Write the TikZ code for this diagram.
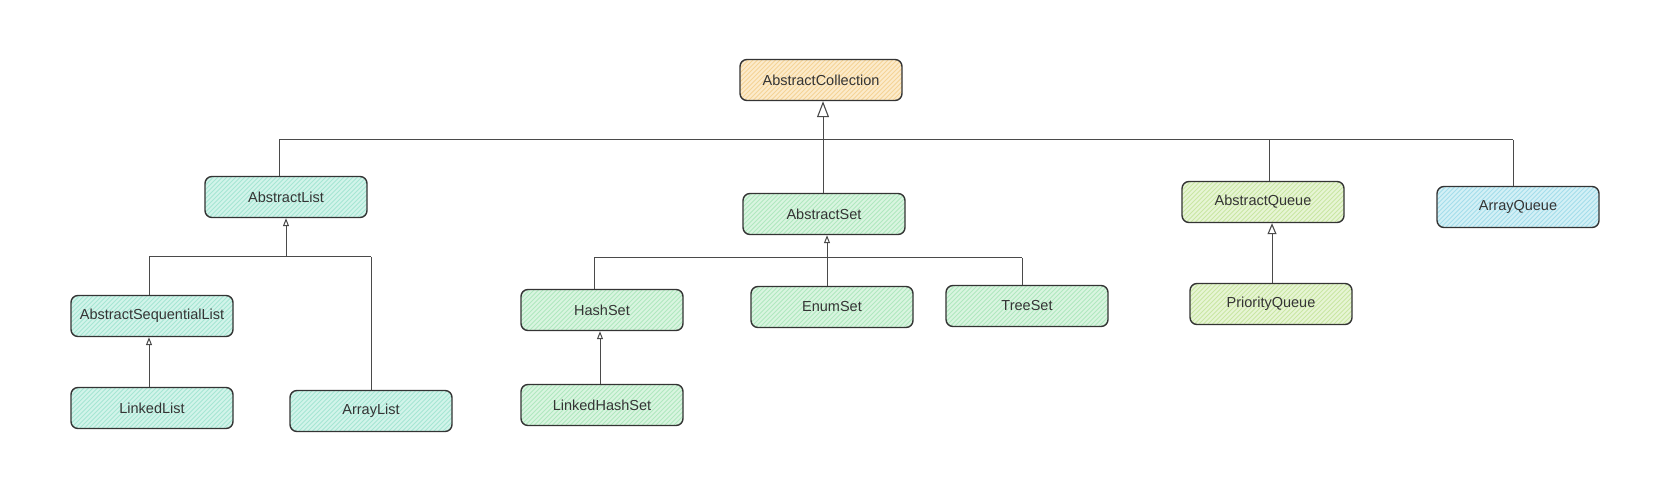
\documentclass[tikz,border=0pt]{standalone}
\usepackage{fontspec}
\setmainfont{Liberation Sans}
\usetikzlibrary{arrows.meta,calc}
\definecolor{ink}{HTML}{343434}
\definecolor{wire}{HTML}{4A4A4A}
\definecolor{orfill}{HTML}{FCEBCB}\definecolor{orhatch}{HTML}{F4D396}
\definecolor{tlfill}{HTML}{D2F4EA}\definecolor{tlhatch}{HTML}{A6E6D3}
\definecolor{grfill}{HTML}{D9F5E0}\definecolor{grhatch}{HTML}{B0E8BF}
\definecolor{ylfill}{HTML}{E7F5D5}\definecolor{ylhatch}{HTML}{C9E6A3}
\definecolor{blfill}{HTML}{D3F0F6}\definecolor{blhatch}{HTML}{A4DDEB}
\tikzset{
  cls/.style={draw=ink, line width=1.4pt, rounded corners=7pt, minimum width=162pt,
    minimum height=41pt, inner sep=0pt, text=ink, font=\fontsize{14.5}{16}\selectfont,
    fill=#1fill,
    path picture={
      \foreach \i in {-50,-45.5,...,175}{
        \draw[#1hatch, line width=0.9pt]
          ($(path picture bounding box.south west)+(\i,0)$) -- ++(52,-52);
      }
    }},
  link/.style={draw=wire, line width=1pt},
  bigtri/.style={link, -{Triangle[open, length=16pt, width=12pt, line width=1.1pt]}},
  midtri/.style={link, -{Triangle[open, length=11pt, width=9pt, line width=1.1pt]}},
  smalltri/.style={link, -{Triangle[open, length=8pt, width=6pt, line width=1pt]}},
}
\begin{document}
\begin{tikzpicture}[x=1pt, y=-1pt]
\useasboundingbox[fill=white] (0,0) rectangle (1672,486);

\node[cls=or] (AC)  at (821,80)  {AbstractCollection};
\node[cls=tl] (AL)  at (286,197) {AbstractList};
\node[cls=gr] (AS)  at (824,214) {AbstractSet};
\node[cls=yl] (AQ)  at (1263,202) {AbstractQueue};
\node[cls=bl] (AQA) at (1518,207) {ArrayQueue};
\node[cls=tl] (ASL) at (152,316) {AbstractSequentialList};
\node[cls=tl] (LL)  at (152,408) {LinkedList};
\node[cls=tl] (ARL) at (371,411) {ArrayList};
\node[cls=gr] (HS)  at (602,310) {HashSet};
\node[cls=gr] (ES)  at (832,307) {EnumSet};
\node[cls=gr] (TS)  at (1027,306) {TreeSet};
\node[cls=gr] (LHS) at (602,405) {LinkedHashSet};
\node[cls=yl] (PQ)  at (1271,304) {PriorityQueue};

% top level bus
\coordinate (b1) at (279,140);
\coordinate (b2) at (823,140);
\coordinate (b3) at (1269,140);
\coordinate (b4) at (1513,140);
\draw[link] (b1) -- (b4);
\draw[link] (b1) -- (b1 |- AL.north);
\draw[link] (b3) -- (b3 |- AQ.north);
\draw[link] (b4) -- (b4 |- AQA.north);
\draw[bigtri] (AS.north -| b2) -- (AC.south -| b2);

% list bus
\coordinate (l0) at (286,257);
\coordinate (l1) at (149,257);
\coordinate (l2) at (371,257);
\draw[link] (l1) -- (l2);
\draw[link] (l1) -- (l1 |- ASL.north);
\draw[link] (l2) -- (l2 |- ARL.north);
\draw[smalltri] (l0) -- (l0 |- AL.south);
\draw[smalltri] (LL.north -| l1) -- (ASL.south -| l1);

% set bus
\coordinate (s0) at (827,258);
\coordinate (s1) at (594,258);
\coordinate (s2) at (1022,258);
\draw[link] (s1) -- (s2);
\draw[link] (s1) -- (s1 |- HS.north);
\draw[link] (s2) -- (s2 |- TS.north);
\draw[smalltri] (ES.north -| s0) -- (AS.south -| s0);
\coordinate (h0) at (600,0);
\draw[smalltri] (LHS.north -| h0) -- (HS.south -| h0);

% queue
\coordinate (q0) at (1272,0);
\draw[midtri] (PQ.north -| q0) -- (AQ.south -| q0);
\end{tikzpicture}
\end{document}
